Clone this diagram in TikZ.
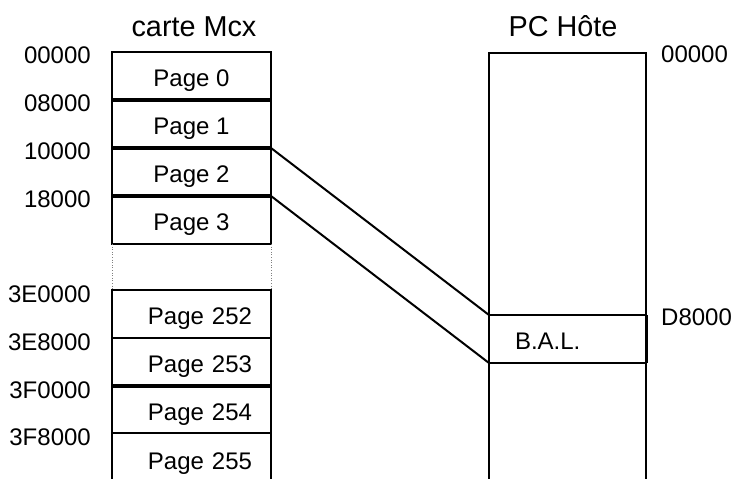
\documentclass[tikz,border=0pt]{standalone}
\usepackage{fontspec}
\setmainfont{Liberation Sans}
\usetikzlibrary{positioning}

\begin{document}
\begin{tikzpicture}[
        x=1pt, y=-1pt,
        line join=miter,
        pg/.style={draw, line width=2.5pt, minimum width=159pt, minimum height=48pt,
            inner sep=0pt, outer sep=0pt, anchor=north west,
            text height=24pt, text depth=3pt, font=\fontsize{24}{28}\selectfont},
        hipg/.style={pg, text width=121pt, inner xsep=19pt, align=right},
        addr/.style={anchor=base east, inner sep=0pt, font=\fontsize{24}{28}\selectfont},
        haddr/.style={anchor=base west, inner sep=0pt, font=\fontsize{24}{28}\selectfont},
        titre/.style={anchor=base, inner sep=0pt, font=\fontsize{28.8}{34}\selectfont}
    ]
    \useasboundingbox (0,0) rectangle (732,479);

    % carte Mcx : pages basses
    \begin{scope}
        \node[titre] (tmcx) at (194,36) {carte Mcx};

        \foreach \i/\y/\a in {0/52/00000, 1/100/08000, 2/148/10000, 3/196/18000}{
            \node[pg] (p\i) at (112,\y) {Page \i};
            \node[addr] (a\i) at (91,\y+11.5) {\a};
        }

        % pages hautes
        \foreach \i/\y/\a in {252/290/3E0000, 253/338/3E8000}{
            \node[hipg] (p\i) at (112,\y) {Page \i};
            \node[addr] (a\i) at (91,\y+12) {\a};
        }
        \node[hipg, minimum height=47pt] (p254) at (112,386) {Page 254};
        \node[addr] (a254) at (91,398) {3F0000};
        \node[hipg, minimum height=52pt] (p255) at (112,433) {Page 255};
        \node[addr] (a255) at (91,445) {3F8000};

        % separations plus epaisses
        \foreach \p in {p1,p2,p3,p254}{
            \draw[line width=3.4pt] (\p.north west) -- (\p.north east);
        }

        % pages intermediaires
        \draw[dotted, gray, line width=0.6pt] (p3.south west) -- (p252.north west);
        \draw[dotted, gray, line width=0.6pt] (p3.south east) -- (p252.north east);
    \end{scope}

    % PC Hote
    \begin{scope}
        \node[titre] (thote) at (563,36) {PC H\^ote};

        \node[pg, minimum width=157pt, minimum height=460pt] (hote) at (489,53) {};
        \node[pg, minimum width=157pt, text width=105pt, inner xsep=26pt, align=left]
            (bal) at (489,315) {B.A.L.};
        \draw[line width=3pt] (bal.north east) -- (bal.south east);

        \node[haddr] (h0) at (661,62) {00000};
        \node[haddr] (hd8) at (661,325) {D8000};
    \end{scope}

    % fenetre vers la boite aux lettres
    \draw[line width=2pt] (p2.north east) -- (bal.north west);
    \draw[line width=2pt] (p3.north east) -- (bal.south west);
\end{tikzpicture}
\end{document}
